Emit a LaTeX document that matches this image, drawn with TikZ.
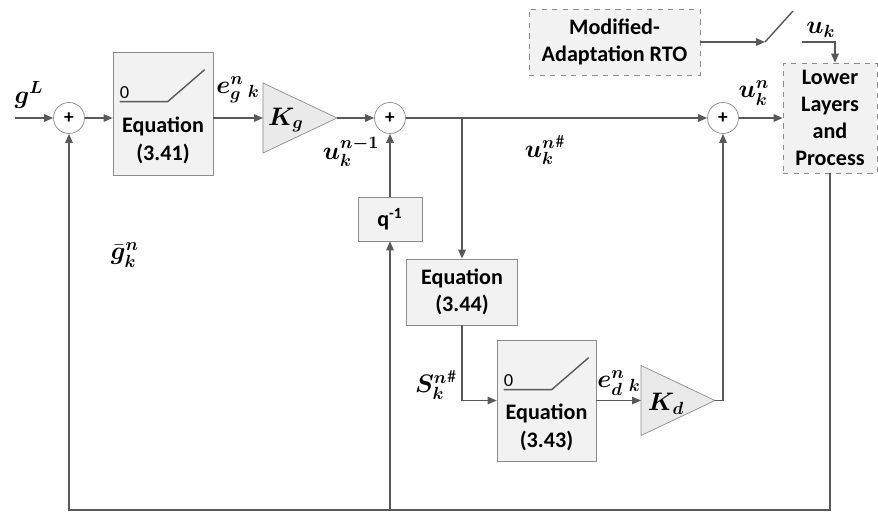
\documentclass[tikz,border=0pt]{standalone}
\usepackage{fontspec}
\setmainfont{Carlito}
\usepackage{amsmath}
\usepackage{bm}
\usepackage{xcolor}
\usetikzlibrary{
    shapes.geometric,
    arrows.meta,
    positioning,
    calc
  }
\definecolor{linecolor}{RGB}{89,89,89}
\definecolor{bordercolor}{RGB}{140,140,140}
\definecolor{blockcolor}{RGB}{242,242,242}
\definecolor{gaincolor}{RGB}{234,234,234}
\tikzset{
  block/.style={draw=bordercolor,fill=blockcolor,inner sep=0pt,align=center,
    font=\bfseries\fontsize{12.6}{15.5}\selectfont},
  blocktext/.style={inner sep=0pt,align=center,font=\bfseries\fontsize{12.6}{16}\selectfont},
  ioblock/.style={block,dashed},
  sum/.style={draw=bordercolor,fill=white,circle,minimum size=0.62cm,inner sep=0pt,
    font=\bfseries\fontsize{11}{11}\selectfont},
  gain/.style={draw=bordercolor,fill=gaincolor,isosceles triangle,isosceles triangle stretches,
    minimum width=1.4cm,minimum height=1.48cm,inner sep=0pt,outer sep=0pt,anchor=west},
  wire/.style={draw=linecolor,line width=0.8pt},
  signal/.style={wire,-{Triangle[length=1.8mm,width=1.5mm]}},
  sig/.style={inner sep=0pt,font=\Large},
  pics/ramp/.style={
    code={
      \path[draw=linecolor,line width=0.8pt]
        (7,50) -- (55,50) -- (92,18)
      ;
      \path[]
        (12,41) node[inner sep=0pt,font=\fontsize{10.5}{10.5}\selectfont] {0}
      ;
    }
  }
}

\begin{document}
\begin{tikzpicture}[x=0.02cm, y=-0.02cm]

\useasboundingbox (0,0) rectangle (878,513);

\coordinate (g_in) at (15,118);
\coordinate (feedback) at (0,510);

\node[sum] (sum_g) at (69,118) {+};
\node[block,minimum width=2cm,minimum height=2.46cm] (eq_341) at (163,113.5) {};
\path (eq_341.north west) pic {ramp};
\node[blocktext] (eq_341_text) at ($(eq_341.north)+(0,89)$) {Equation\\(3.41)};
\node[gain] (gain_g) at (263,118) {};
\node[sig] (gain_g_label) at (286,120) {$\bm{K_g}$};

\node[sum] (sum_u) at (390,118) {+};
\node[block,minimum width=1.28cm,minimum height=0.88cm] (delay) at (390,219) {q\textsuperscript{-1}};

\node[block,minimum width=2.22cm,minimum height=1.32cm] (eq_344) at (462,292) {Equation\\(3.44)};
\coordinate (branch) at (eq_344.north |- sum_u.east);

\node[block,minimum width=1.98cm,minimum height=2.42cm] (eq_343) at (546.5,400.5) {};
\path (eq_343.north west) pic {ramp};
\node[blocktext] (eq_343_text) at ($(eq_343.north)+(0,88)$) {Equation\\(3.43)};
\node[gain] (gain_d) at (641,400.5) {};
\node[sig] (gain_d_label) at (666,404) {$\bm{K_d}$};

\node[sum] (sum_out) at (723,118) {+};
\node[ioblock,minimum width=1.88cm,minimum height=2.2cm] (plant) at (830,118) {Lower\\Layers\\and\\Process};
\node[ioblock,minimum width=3.42cm,minimum height=1.32cm] (rto) at (614.5,42) {Modified-\\Adaptation RTO};

\coordinate (switch_in) at (765,42);
\coordinate (switch_tip) at (793,11);
\coordinate (switch_out) at (802,42);
\coordinate (plant_in) at (835,42);

\path[signal] (g_in) -- (sum_g.west);
\path[signal] (sum_g.east) -- (sum_g.east -| eq_341.west);
\path[signal] (eq_341.east |- gain_g.west) -- (gain_g.west);
\path[signal] (gain_g.apex) -- (sum_u.west);
\path[signal] (sum_u.east) -- (sum_out.west);
\path[signal] (branch) -- (eq_344.north);
\path[signal] (delay.north) -- (sum_u.south);
\path[signal] (delay.south |- feedback) -- (delay.south);
\path[signal] (eq_344.south) |- (eq_343.west);
\path[signal] (eq_343.east |- gain_d.west) -- (gain_d.west);
\path[signal] (gain_d.apex) -| (sum_out.south);
\path[signal] (sum_out.east) -- (plant.west);
\path[signal] (rto.east) -- (switch_in);
\path[wire] (switch_in) -- (switch_tip);
\path[signal] (switch_out) -- (plant_in) -- (plant_in |- plant.north);
\path[signal]
  (plant.south) -- (plant.south |- feedback) -| (sum_g.south)
;

\node[sig] (g_ref_label) at (29,95) {$\bm{g^L}$};
\node[sig] (e_g_label) at (238,90) {$\bm{e^{n}_{g}}\,{}_{\bm{k}}$};
\node[sig] (u_prev_label) at (351,152) {$\bm{u^{n-1}_{k}}$};
\node[sig] (u_hash_label) at (545,150) {${\bm{u^{n}_{k}}}^{\bm{\#}}$};
\node[sig] (s_hash_label) at (436,385) {${\bm{S^{n}_{k}}}^{\bm{\#}}$};
\node[sig] (e_d_label) at (619,383) {$\bm{e^{n}_{d}}\,{}_{\bm{k}}$};
\node[sig] (u_out_label) at (754,93) {$\bm{u^{n}_{k}}$};
\node[sig] (u_rto_label) at (821,30) {$\bm{u_{k}}$};
\node[sig] (g_bar_label) at (125,255) {$\bm{\bar{g}^{n}_{k}}$};

\end{tikzpicture}
\end{document}
